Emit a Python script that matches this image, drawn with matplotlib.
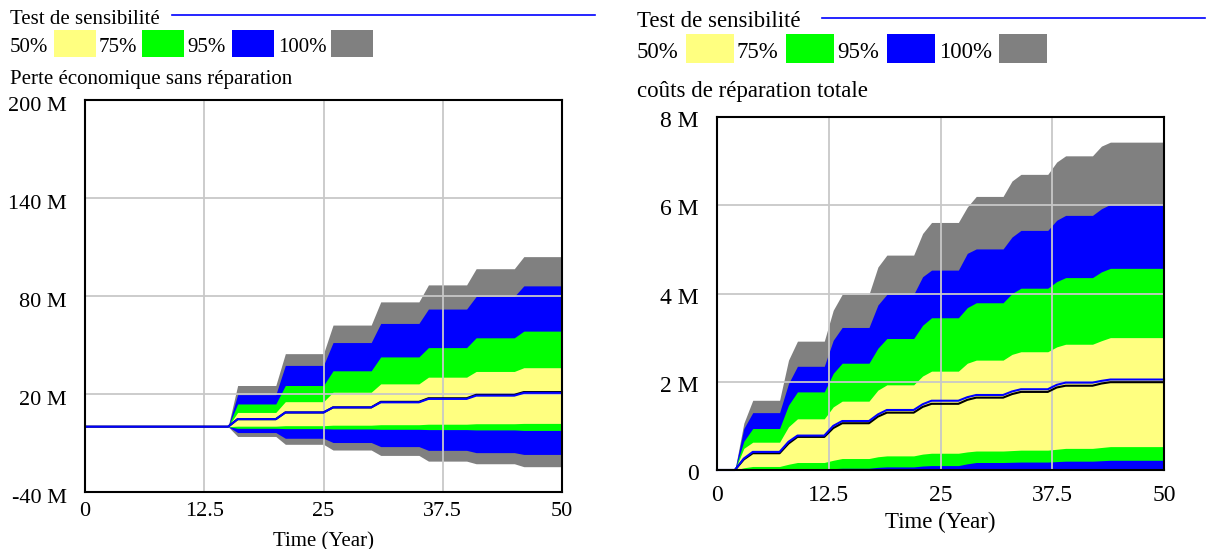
import matplotlib
matplotlib.use("Agg")
import matplotlib.pyplot as plt
import matplotlib.transforms as mtransforms
from matplotlib.patches import Rectangle
from matplotlib.lines import Line2D

plt.rcParams["font.family"] = ["Liberation Serif", "DejaVu Serif"]

W, H = 1208, 549

# ---- left panel: Perte économique sans réparation (M) ----
left_step_years = [15, 20, 25, 30, 35, 40, 45]
left_gray_hi = [25.2, 44.7, 62.2, 76.4, 86.8, 96.7, 104.1]
left_blue_hi = [19.6, 37.5, 51.5, 63.2, 72.0, 79.7, 86.2]
left_green_hi = [13.9, 25.2, 34.2, 42.7, 48.4, 54.4, 58.5]
left_yellow_hi = [8.7, 15.3, 21.1, 26.2, 30.3, 33.8, 36.1]
left_base_blue = [4.6, 8.7, 11.8, 14.9, 17.0, 19.0, 20.7]
left_base_black = [4.6, 8.7, 11.8, 15.2, 17.4, 19.5, 21.2]
left_yellow_lo = [0.3, 0.6, 0.9, 1.2, 1.5, 1.8, 2.0]
left_green_lo = [-1.0, -1.2, -1.4, -1.6, -1.8, -2.0, -2.3]
left_blue_lo = [-3.6, -7.1, -9.7, -12.2, -14.5, -15.9, -17.0]
left_gray_lo = [-6.0, -10.8, -14.3, -17.6, -21.1, -22.7, -24.5]
left_yticks = [-40, 20, 80, 140, 200]
left_ylabels = ["-40 M", "20 M", "80 M", "140 M", "200 M"]

# ---- right panel: coûts de réparation totale (M) ----
right_step_years = [2, 7, 12, 17, 22, 27, 32, 37, 42]
right_gray_hi = [1.58, 2.92, 3.98, 4.87, 5.61, 6.20, 6.70, 7.12, 7.43]
right_gray_hi_mid = [1.06, 2.49, 3.62, 4.60, 5.36, 5.96, 6.55, 6.98, 7.34]
right_blue_hi = [1.30, 2.35, 3.23, 3.98, 4.53, 5.01, 5.43, 5.77, 6.02]
right_blue_hi_mid = [0.94, 1.96, 2.94, 3.74, 4.38, 4.91, 5.28, 5.66, 5.92]
right_green_hi = [0.94, 1.77, 2.42, 2.98, 3.45, 3.79, 4.12, 4.36, 4.57]
right_green_hi_mid = [0.65, 1.47, 2.19, 2.76, 3.28, 3.68, 4.00, 4.27, 4.49]
right_yellow_hi = [0.63, 1.16, 1.56, 1.93, 2.24, 2.49, 2.68, 2.85, 3.00]
right_yellow_hi_mid = [0.49, 0.98, 1.43, 1.81, 2.13, 2.42, 2.62, 2.79, 2.93]
right_base_blue = [0.41, 0.78, 1.11, 1.36, 1.57, 1.70, 1.83, 1.98, 2.05]
right_base_blue_mid = [0.26, 0.64, 1.00, 1.26, 1.49, 1.65, 1.78, 1.93, 2.02]
right_base_black = [0.38, 0.75, 1.06, 1.30, 1.50, 1.64, 1.77, 1.91, 1.99]
right_base_black_mid = [0.24, 0.60, 0.95, 1.21, 1.43, 1.59, 1.72, 1.87, 1.96]
right_yellow_lo = [0.08, 0.17, 0.26, 0.32, 0.38, 0.43, 0.45, 0.49, 0.53]
right_yellow_lo_mid = [0.05, 0.13, 0.22, 0.30, 0.36, 0.41, 0.44, 0.47, 0.51]
right_green_lo = [0.01, 0.02, 0.04, 0.07, 0.10, 0.17, 0.18, 0.20, 0.22]
right_green_lo_mid = [0.0, 0.015, 0.03, 0.06, 0.09, 0.14, 0.175, 0.19, 0.21]
right_zero = [0.0] * 9
right_yticks = [0, 2, 4, 6, 8]
right_ylabels = ["0", "2 M", "4 M", "6 M", "8 M"]

x_ticks = [0, 12.5, 25, 37.5, 50]
x_labels = ["0", "12.5", "25", "37.5", "50"]
legend_labels = ["50%", "75%", "95%", "100%"]

YELLOW, GREEN, BLUE, GRAY = "#FFFF80", "#00FF00", "#0000FF", "#808080"
band_colors = [YELLOW, GREEN, BLUE, GRAY]


def left_series(levels):
    # values held for a 5 year block, reached one year after the block start
    t, v, prev = [0], [0.0], 0.0
    for start, lev in zip(left_step_years, levels):
        t += [start, start + 1]
        v += [prev, lev]
        prev = lev
    t.append(50)
    v.append(prev)
    return t, v


def right_series(levels, mids):
    t, v, prev = [0], [0.0], 0.0
    for start, mid, lev in zip(right_step_years, mids, levels):
        t += [start, start + 1, start + 2]
        v += [prev, mid, lev]
        prev = lev
    t.append(50)
    v.append(prev)
    return t, v


def fx(px):
    return px / W


def fy(py):
    return 1 - py / H


def style_axes(ax, yticks, ylabels, ylim, fs_tick, fs_lab, ypad, xpad, lab_pad, ydrop):
    ax.set_xlim(0, 50)
    ax.set_ylim(*ylim)
    ax.set_xticks(x_ticks)
    ax.set_xticklabels(x_labels)
    ax.set_yticks(yticks)
    ax.set_yticklabels(ylabels)
    ax.tick_params(axis="both", length=0, labelsize=fs_tick)
    ax.tick_params(axis="y", pad=ypad)
    ax.tick_params(axis="x", pad=xpad)
    # Vensim puts the value labels a little under their grid line
    shift = mtransforms.ScaledTranslation(0, -ydrop / 100, fig.dpi_scale_trans)
    for lab in ax.get_yticklabels():
        lab.set_transform(lab.get_transform() + shift)
    ax.grid(True, color="#c8c8c8", lw=1.3)
    ax.set_axisbelow(False)
    for sp in ax.spines.values():
        sp.set_color("black")
        sp.set_linewidth(1.5)
        sp.set_zorder(5)
    ax.set_xlabel("Time (Year)", fontsize=fs_lab, labelpad=lab_pad)


def draw_legend(x0, y_title, y_row, line_x, box_xs, text_xs, box_w, box_top, box_h, fs, title, y_var):
    fig.text(fx(x0), fy(y_title), "Test de sensibilité", fontsize=fs, va="baseline")
    fig.add_artist(Line2D([fx(line_x[0]), fx(line_x[1])], [fy(y_title - 9), fy(y_title - 9)],
                          color=BLUE, lw=1.2))
    for lab, tx, bx, col in zip(legend_labels, text_xs, box_xs, band_colors):
        fig.text(fx(tx), fy(y_row), lab, fontsize=fs, va="baseline")
        fig.add_artist(Rectangle((fx(bx), fy(box_top + box_h)), box_w / W, box_h / H,
                                 facecolor=col, edgecolor="none"))
    fig.text(fx(x0), fy(y_var), title, fontsize=fs, va="baseline")


fig = plt.figure(figsize=(W / 100, H / 100), dpi=100)

# left panel
ax1 = fig.add_axes([fx(85), fy(492), fx(562) - fx(85), fy(100) - fy(492)])
for hi, lo, col in [(left_gray_hi, left_gray_lo, GRAY), (left_blue_hi, left_blue_lo, BLUE),
                    (left_green_hi, left_green_lo, GREEN), (left_yellow_hi, left_yellow_lo, YELLOW)]:
    t, vh = left_series(hi)
    _, vl = left_series(lo)
    ax1.fill_between(t, vl, vh, color=col, lw=0, zorder=1)
t, v = left_series(left_base_black)
ax1.plot(t, v, color="black", lw=1.5, zorder=3)
t, v = left_series(left_base_blue)
ax1.plot(t, v, color=BLUE, lw=1.5, zorder=3)
style_axes(ax1, left_yticks, left_ylabels, (-40, 200), 16, 15, 13, 7, 8, 4)
draw_legend(10, 24, 52, (172, 595), [54, 142, 232, 331], [10, 99, 187, 278], 42, 30, 27, 15,
            "Perte économique sans réparation", 84)

# right panel
ax2 = fig.add_axes([fx(717), fy(470), fx(1164) - fx(717), fy(117) - fy(470)])
for hi, him, lo, lom, col in [
        (right_gray_hi, right_gray_hi_mid, right_zero, right_zero, GRAY),
        (right_blue_hi, right_blue_hi_mid, right_zero, right_zero, BLUE),
        (right_green_hi, right_green_hi_mid, right_green_lo, right_green_lo_mid, GREEN),
        (right_yellow_hi, right_yellow_hi_mid, right_yellow_lo, right_yellow_lo_mid, YELLOW)]:
    t, vh = right_series(hi, him)
    _, vl = right_series(lo, lom)
    ax2.fill_between(t, vl, vh, color=col, lw=0, zorder=1)
t, v = right_series(right_base_black, right_base_black_mid)
ax2.plot(t, v, color="black", lw=1.5, zorder=3)
t, v = right_series(right_base_blue, right_base_blue_mid)
ax2.plot(t, v, color=BLUE, lw=1.5, zorder=3, clip_on=False)
style_axes(ax2, right_yticks, right_ylabels, (0, 8), 17, 16.5, 13, 11, 4, 2)
draw_legend(637, 27, 58, (822, 1205), [686, 786, 887, 999], [637, 736, 837, 939], 48, 34, 29, 16.5,
            "coûts de réparation totale", 97)

fig.savefig("out.png", dpi=100)
